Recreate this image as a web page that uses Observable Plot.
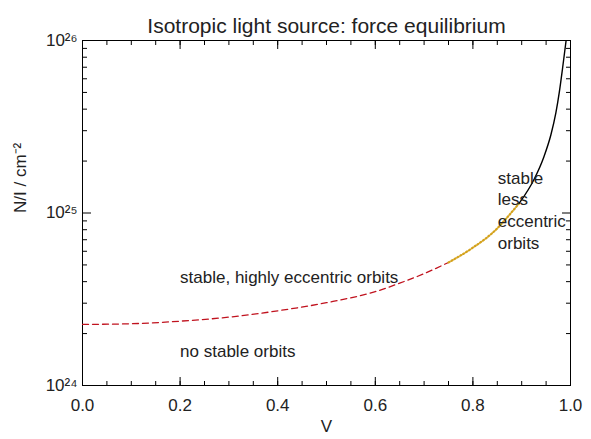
<!DOCTYPE html>
<html><head><meta charset="utf-8">
<script src="https://cdn.jsdelivr.net/npm/d3@7"></script>
<script src="https://cdn.jsdelivr.net/npm/@observablehq/plot@0.6"></script>
<style>body{margin:0;background:#fff}</style>
</head><body><div id="chart"></div>
<script>
// Segment 1: no stable / highly eccentric boundary (red dashed)
const redV = [0, 0.1, 0.2, 0.3, 0.4, 0.5, 0.6, 0.65, 0.7, 0.75];
const redN = [2.26e24, 2.28e24, 2.36e24, 2.49e24, 2.71e24, 3.02e24, 3.5e24, 3.92e24, 4.45e24, 5.17e24];
// Segment 2: orange dotted
const orangeV = [0.75, 0.8, 0.85, 0.864, 0.895];
const orangeN = [5.17e24, 6.3e24, 8.15e24, 9.0e24, 1.14e25];
// Segment 3: black solid
const blackV = [0.895, 0.926, 0.945, 0.96, 0.97, 0.977, 0.984, 0.991];
const blackN = [1.14e25, 1.58e25, 2.1e25, 2.85e25, 3.8e25, 5.0e25, 7.0e25, 1.0e26];

const xMajor = [0, 0.2, 0.4, 0.6, 0.8, 1.0];
const xMinor = d3.range(0, 1.0001, 0.05);
const yMajor = [1e24, 1e25, 1e26];
const yMajorLabels = ["10²⁴", "10²⁵", "10²⁶"];
const yMinor = [2,3,4,5,6,7,8,9].flatMap(k => [k*1e24, k*1e25]);

const title = "Isotropic light source: force equilibrium";
const xLabel = "V";
const yLabel = "N/I / cm⁻²";
const annotations = [
  {v: 0.2, n: 4.3e24, text: "stable, highly eccentric orbits"},
  {v: 0.2, n: 1.6e24, text: "no stable orbits"},
  {v: 0.851, n: 1.05e25, text: "stable\nless\neccentric\norbits"}
];

const toRows = (vs, ns) => vs.map((v, i) => ({v, n: ns[i]}));
const FONT = "Liberation Sans, Arial, Helvetica, sans-serif";
const TXT = "#222";

const chart = Plot.plot({
  width: 591,
  height: 439,
  marginLeft: 82,
  marginRight: 21,
  marginTop: 40,
  marginBottom: 54,
  style: {fontFamily: FONT, background: "#fff", color: TXT},
  x: {domain: [0, 1]},
  y: {type: "log", domain: [1e24, 1e26]},
  marks: [
    Plot.frame({stroke: "#000", strokeWidth: 1}),
    // major / minor ticks, inward, all four sides
    Plot.axisX(xMajor, {anchor: "bottom", tickSize: -8, tickFormat: () => "", label: null, stroke: "#000"}),
    Plot.axisX(xMinor, {anchor: "bottom", tickSize: -4, tickFormat: () => "", label: null, stroke: "#000"}),
    Plot.axisX(xMajor, {anchor: "top", tickSize: -8, tickFormat: () => "", label: null, stroke: "#000"}),
    Plot.axisX(xMinor, {anchor: "top", tickSize: -4, tickFormat: () => "", label: null, stroke: "#000"}),
    Plot.axisY(yMajor, {anchor: "left", tickSize: -9, tickFormat: () => "", label: null, stroke: "#000"}),
    Plot.axisY(yMinor, {anchor: "left", tickSize: -5, tickFormat: () => "", label: null, stroke: "#000"}),
    Plot.axisY(yMajor, {anchor: "right", tickSize: -9, tickFormat: () => "", label: null, stroke: "#000"}),
    Plot.axisY(yMinor, {anchor: "right", tickSize: -5, tickFormat: () => "", label: null, stroke: "#000"}),
    // tick labels
    Plot.axisX(xMajor, {anchor: "bottom", tickSize: 0, tickPadding: 13, tickFormat: d3.format(".1f"), label: null, fontSize: 17, fill: TXT}),
    Plot.axisY(yMajor, {anchor: "left", tickSize: 0, tickPadding: 5, tickFormat: d => yMajorLabels[yMajor.indexOf(d)], label: null, fontSize: 17, fill: TXT}),
    // curves
    Plot.line(toRows(redV, redN), {x: "v", y: "n", curve: "monotone-x", stroke: "#c0121e", strokeWidth: 1.3, strokeDasharray: "6,4", clip: true}),
    Plot.line(toRows(orangeV, orangeN), {x: "v", y: "n", curve: "monotone-x", stroke: "#d4a21c", strokeWidth: 2.2, strokeDasharray: "1.2,2.2", clip: true}),
    Plot.line(toRows(blackV, blackN), {x: "v", y: "n", curve: "monotone-x", stroke: "#000", strokeWidth: 1.4, clip: true}),
    // annotations
    Plot.text(annotations, {x: "v", y: "n", text: "text", textAnchor: "start", fontSize: 17, lineHeight: 1.28, fill: TXT}),
    // title and axis labels
    Plot.text([title], {frameAnchor: "top", dy: -22, fontSize: 21, fill: TXT}),
    Plot.text([xLabel], {frameAnchor: "bottom", dy: 46, fontSize: 17, fill: TXT}),
    Plot.text([yLabel], {frameAnchor: "left", dx: -62, rotate: -90, fontSize: 17, fill: TXT})
  ]
});
document.getElementById("chart").append(chart);
</script>
</body></html>
